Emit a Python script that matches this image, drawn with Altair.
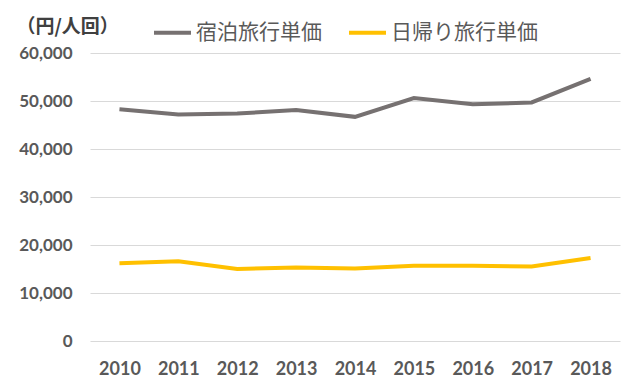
import altair as alt
import pandas as pd

years = ["2010", "2011", "2012", "2013", "2014", "2015", "2016", "2017", "2018"]
stay = [48300, 47200, 47400, 48100, 46700, 50600, 49300, 49700, 54600]
day = [16200, 16600, 15000, 15300, 15100, 15700, 15700, 15500, 17300]
series_names = ["宿泊旅行単価", "日帰り旅行単価"]
colors = ["#767171", "#FFC000"]

rows = []
for y, s, d in zip(years, stay, day):
    rows.append({"year": y, "series": series_names[0], "value": s})
    rows.append({"year": y, "series": series_names[1], "value": d})
df = pd.DataFrame(rows)

chart = alt.Chart(df).mark_line(strokeWidth=4).encode(
    x=alt.X("year:N", sort=years, title=None,
            scale=alt.Scale(paddingInner=0, paddingOuter=0.5),
            axis=alt.Axis(labelAngle=0, labelFont="Lato", labelFontSize=18,
                          labelFontWeight="bold", labelColor="#595959",
                          labelPadding=19, ticks=False, domain=False, grid=False)),
    y=alt.Y("value:Q", scale=alt.Scale(domain=[0, 60000]),
            axis=alt.Axis(values=[0, 10000, 20000, 30000, 40000, 50000, 60000],
                          format=",d", labelFont="Lato", labelFontSize=17,
                          labelFontWeight="bold", labelColor="#595959",
                          labelPadding=18, ticks=False, domain=False,
                          gridColor="#D9D9D9", gridWidth=1,
                          title="（円/人回）", titleAngle=0, titleAlign="left",
                          titleBaseline="middle", titleX=-74, titleY=-27,
                          titleFont="Noto Sans CJK JP", titleFontSize=19,
                          titleFontWeight="bold", titleColor="#404040")),
    color=alt.Color("series:N", sort=series_names,
                    scale=alt.Scale(domain=series_names, range=colors),
                    legend=alt.Legend(title=None, orient="none", direction="horizontal",
                                      legendX=62, legendY=-41,
                                      symbolType="stroke", symbolSize=1369,
                                      symbolStrokeWidth=4, labelOffset=3,
                                      columnPadding=19,
                                      labelFont="Noto Sans CJK JP", labelFontSize=21,
                                      labelColor="#595959")),
).properties(
    width=530, height=288,
    autosize=alt.AutoSizeParams(type="none"),
    padding={"left": 82, "top": 45, "right": 12, "bottom": 42},
).configure_view(stroke=None)

chart.save("out.html", embed_options={"renderer": "svg", "actions": False})
